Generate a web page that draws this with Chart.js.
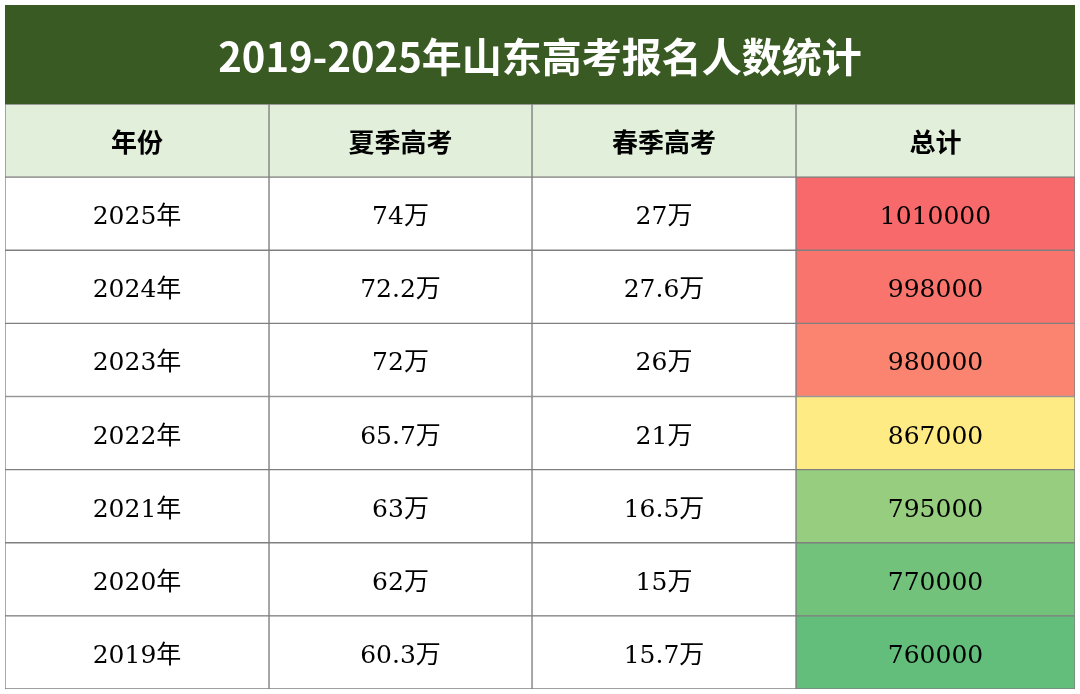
<!DOCTYPE html>
<html><head><meta charset="utf-8">
<script src="https://cdn.jsdelivr.net/npm/chart.js@4"></script>
<style>html,body{margin:0;padding:0;background:#fff}#w{width:1080px;height:694px}</style>
</head><body><div id="w"><canvas id="c"></canvas></div>
<script>
const title = '2019-2025年山东高考报名人数统计';
const headers = ['年份','夏季高考','春季高考','总计'];
const years = ['2025年','2024年','2023年','2022年','2021年','2020年','2019年'];
const summer = ['74万','72.2万','72万','65.7万','63万','62万','60.3万'];
const spring = ['27万','27.6万','26万','21万','16.5万','15万','15.7万'];
const totals = [1010000,998000,980000,867000,795000,770000,760000];
const totalColors = ['#F8696B','#F9746D','#FA8470','#FFEB84','#96CD7E','#72C27C','#63BE7B'];
const colWidths = [264,263,264,279];

const rows = ['h', ...years];
const cols = [
  [headers[0], ...years],
  [headers[1], ...summer],
  [headers[2], ...spring],
  [headers[3], ...totals.map(String)]
];
const datasets = colWidths.map((w,ci)=>({
  data: rows.map(()=>w),
  texts: cols[ci],
  backgroundColor: rows.map((r,ri)=> ri===0 ? '#E2EFDA' : (ci===3 ? totalColors[ri-1] : '#FFFFFF')),
  borderColor: '#7f7f7f', borderWidth: 1, borderSkipped: false,
  barPercentage: 1, categoryPercentage: 1
}));
const plugin = {
  id:'tbl',
  beforeDraw(ch){
    const c=ch.ctx; c.save();
    c.fillStyle='#3A5A24'; c.fillRect(5,5,1070,99);
    c.fillStyle='#fff'; c.font='bold 40px "Noto Sans CJK SC"'; c.textAlign='center'; c.textBaseline='middle';
    c.fillText(title,540,57); c.restore();
  },
  afterDatasetsDraw(ch){
    const c=ch.ctx; c.save(); c.textAlign='center'; c.textBaseline='middle'; c.fillStyle='#000';
    ch.data.datasets.forEach((ds,di)=>{
      ch.getDatasetMeta(di).data.forEach((el,ri)=>{
        const x=(el.x+el.base)/2;
        c.font = ri===0 ? 'bold 26px "Noto Sans CJK SC"' : '25px "DejaVu Serif","Noto Sans CJK SC"';
        c.fillText(ds.texts[ri], x, el.y+(ri===0?2:4));
      });
    });
    c.restore();
  }
};
new Chart(document.getElementById('c'),{
  type:'bar',
  data:{labels:rows,datasets},
  options:{
    indexAxis:'y', responsive:true, maintainAspectRatio:false, animation:false,
    layout:{padding:{left:5,right:5,top:104,bottom:5}},
    plugins:{legend:{display:false},tooltip:{enabled:false}},
    scales:{
      x:{stacked:true,display:false,min:0,max:colWidths.reduce((a,b)=>a+b,0)},
      y:{stacked:true,display:false}
    }
  },
  plugins:[plugin]
});
</script></body></html>
